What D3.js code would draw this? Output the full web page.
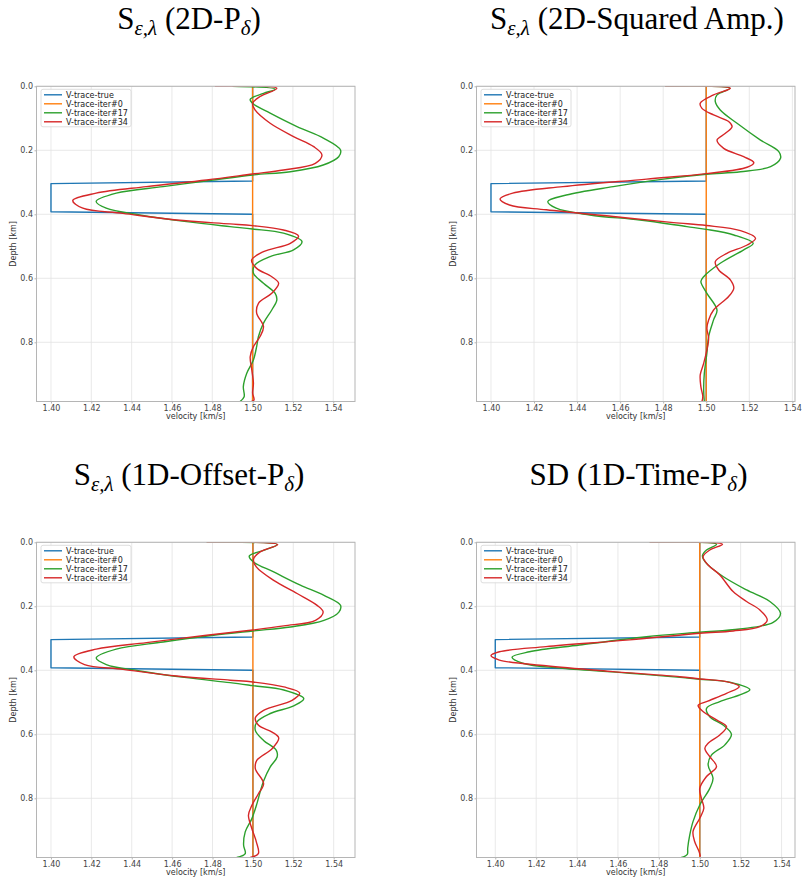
<!DOCTYPE html>
<html><head><meta charset="utf-8">
<script src="https://cdn.jsdelivr.net/npm/d3@7"></script>
<style>body{margin:0;background:#fff}</style>
</head><body><svg id="c" width="802" height="878"></svg>
<script>
// ---------- data ----------
const seriesNames = ["V-trace-true", "V-trace-iter#0", "V-trace-iter#17", "V-trace-iter#34"];
const seriesColors = ["#1f77b4", "#ff7f0e", "#2ca02c", "#d62728"];
const xTickValues = [1.40, 1.42, 1.44, 1.46, 1.48, 1.50, 1.52, 1.54];
const yTickValues = [0.0, 0.2, 0.4, 0.6, 0.8];
const depthMax = 0.985;

// [depth km, velocity km/s]
const trueModel = [[0, 1.5], [0.296, 1.5], [0.304, 1.4], [0.392, 1.4], [0.400, 1.5], [0.985, 1.5]];
const initModel = [[0, 1.5], [0.985, 1.5]];

const p1Iter17 = [[0,1.490],[0.009,1.5112],[0.022,1.5054],[0.041,1.4988],[0.055,1.5004],[0.084,1.5087],[0.126,1.5220],[0.1625,1.5353],[0.199,1.5436],[0.220,1.5427],[0.246,1.5350],[0.267,1.5187],[0.277,1.5000],[0.293,1.4805],[0.3135,1.4556],[0.334,1.4324],[0.360,1.4224],[0.381,1.4274],[0.402,1.4440],[0.423,1.4672],[0.4385,1.4888],[0.446,1.5000],[0.459,1.5153],[0.4854,1.5245],[0.511,1.5203],[0.532,1.5087],[0.558,1.5012],[0.584,1.5004],[0.6156,1.5054],[0.647,1.5112],[0.668,1.5120],[0.699,1.5095],[0.740,1.5054],[0.782,1.5029],[0.8135,1.5020],[0.855,1.5004],[0.897,1.4971],[0.9385,1.4954],[0.970,1.4958],[0.985,1.4938]];
const p1Iter34 = [[0,1.4813],[0.006,1.5120],[0.032,1.5037],[0.053,1.5000],[0.074,1.5012],[0.1156,1.5087],[0.157,1.5203],[0.1885,1.5303],[0.2146,1.5344],[0.2406,1.5311],[0.2615,1.5153],[0.274,1.5000],[0.2927,1.4772],[0.3135,1.4473],[0.334,1.4224],[0.357,1.4108],[0.381,1.4158],[0.397,1.4357],[0.418,1.4622],[0.430,1.4888],[0.4354,1.5000],[0.449,1.5153],[0.468,1.5228],[0.4906,1.5187],[0.5167,1.5054],[0.543,1.4995],[0.569,1.5020],[0.595,1.5095],[0.6156,1.5129],[0.647,1.5095],[0.678,1.5029],[0.709,1.5020],[0.751,1.5054],[0.782,1.5037],[0.8135,1.5004],[0.845,1.4988],[0.886,1.4996],[0.928,1.5004],[0.959,1.5000],[0.980,1.5007],[0.985,1.4995]];

const p2Iter17 = [[0,1.4809],[0.006,1.5109],[0.027,1.5050],[0.048,1.5042],[0.074,1.5065],[0.1156,1.5143],[0.168,1.5252],[0.204,1.5337],[0.225,1.5345],[0.251,1.5299],[0.267,1.5159],[0.275,1.5000],[0.290,1.4801],[0.3135,1.4568],[0.3396,1.4350],[0.360,1.4264],[0.381,1.4303],[0.402,1.4459],[0.418,1.4692],[0.4385,1.4910],[0.447,1.5000],[0.4646,1.5128],[0.4906,1.5218],[0.511,1.5174],[0.553,1.5065],[0.595,1.4988],[0.610,1.4975],[0.647,1.5003],[0.699,1.5050],[0.730,1.5034],[0.782,1.5011],[0.834,1.5003],[0.897,1.4991],[0.949,1.4988],[0.985,1.4991]];
const p2Iter34 = [[0,1.4809],[0.006,1.5112],[0.027,1.5034],[0.053,1.4972],[0.069,1.4980],[0.0896,1.5034],[0.110,1.5104],[0.126,1.5120],[0.147,1.5089],[0.168,1.5050],[0.194,1.5081],[0.220,1.5174],[0.2385,1.5221],[0.253,1.5190],[0.273,1.5000],[0.290,1.4723],[0.3135,1.4334],[0.334,1.4101],[0.352,1.4042],[0.371,1.4086],[0.386,1.4257],[0.407,1.4568],[0.426,1.4848],[0.435,1.5000],[0.451,1.5159],[0.475,1.5229],[0.496,1.5190],[0.522,1.5096],[0.548,1.5042],[0.574,1.5058],[0.605,1.5112],[0.631,1.5128],[0.657,1.5104],[0.699,1.5034],[0.730,1.5011],[0.756,1.5003],[0.7875,1.5011],[0.824,1.5003],[0.866,1.4988],[0.902,1.4972],[0.9385,1.4975],[0.970,1.4984],[0.985,1.4980]];

const p3Iter17 = [[0,1.4771],[0.007,1.5120],[0.025,1.5053],[0.043,1.4982],[0.0615,1.5003],[0.0927,1.5103],[0.134,1.5235],[0.1656,1.5352],[0.197,1.5434],[0.218,1.5426],[0.244,1.5352],[0.2646,1.5186],[0.277,1.5000],[0.2906,1.4804],[0.3115,1.4556],[0.334,1.4323],[0.3615,1.4224],[0.382,1.4274],[0.402,1.4440],[0.423,1.4672],[0.4385,1.4887],[0.448,1.5000],[0.4615,1.5153],[0.4885,1.5252],[0.511,1.5202],[0.535,1.5086],[0.561,1.5020],[0.5875,1.5012],[0.619,1.5053],[0.650,1.5116],[0.671,1.5120],[0.702,1.5086],[0.746,1.5053],[0.780,1.5036],[0.8167,1.5020],[0.8635,1.4995],[0.905,1.4962],[0.947,1.4954],[0.973,1.4962],[0.985,1.4920]];
const p3Iter34 = [[0,1.4771],[0.007,1.5123],[0.030,1.5036],[0.053,1.5003],[0.077,1.5017],[0.119,1.5103],[0.160,1.5219],[0.197,1.5318],[0.218,1.5348],[0.244,1.5310],[0.261,1.5153],[0.274,1.5000],[0.2906,1.4771],[0.3135,1.4473],[0.334,1.4224],[0.358,1.4113],[0.382,1.4166],[0.397,1.4357],[0.418,1.4622],[0.431,1.4887],[0.4365,1.5000],[0.452,1.5153],[0.471,1.5232],[0.494,1.5194],[0.525,1.5053],[0.549,1.5012],[0.572,1.5028],[0.593,1.5095],[0.6115,1.5128],[0.645,1.5095],[0.681,1.5020],[0.707,1.5012],[0.754,1.5053],[0.785,1.5028],[0.822,1.4995],[0.853,1.4978],[0.895,1.4995],[0.936,1.5017],[0.973,1.5027],[0.985,1.4987]];

const p4Iter17 = [[0,1.4755],[0.006,1.5082],[0.024,1.5033],[0.042,1.5013],[0.066,1.5033],[0.107,1.5114],[0.149,1.5229],[0.185,1.5343],[0.222,1.5395],[0.250,1.5359],[0.271,1.5196],[0.281,1.5000],[0.295,1.4739],[0.321,1.4412],[0.342,1.4167],[0.359,1.4082],[0.378,1.4134],[0.394,1.4330],[0.409,1.4657],[0.423,1.4918],[0.428,1.5000],[0.4375,1.5147],[0.461,1.5245],[0.477,1.5196],[0.498,1.5098],[0.519,1.5033],[0.545,1.5049],[0.571,1.5114],[0.600,1.5155],[0.633,1.5123],[0.665,1.5057],[0.696,1.5041],[0.7375,1.5065],[0.769,1.5049],[0.821,1.5000],[0.873,1.4967],[0.915,1.4951],[0.956,1.4941],[0.975,1.4939],[0.985,1.4910]];
const p4Iter34 = [[0,1.4755],[0.006,1.5111],[0.024,1.5049],[0.045,1.5016],[0.071,1.5041],[0.102,1.5098],[0.154,1.5163],[0.185,1.5229],[0.2115,1.5294],[0.243,1.5330],[0.2635,1.5294],[0.277,1.5163],[0.284,1.5000],[0.305,1.4657],[0.326,1.4248],[0.342,1.4020],[0.354,1.3979],[0.368,1.4020],[0.386,1.4248],[0.404,1.4575],[0.420,1.4902],[0.427,1.5000],[0.4354,1.5131],[0.451,1.5193],[0.472,1.5131],[0.498,1.5033],[0.510,1.4992],[0.529,1.5016],[0.555,1.5082],[0.576,1.5131],[0.602,1.5098],[0.628,1.5041],[0.644,1.5025],[0.670,1.5049],[0.701,1.5082],[0.732,1.5033],[0.769,1.5000],[0.800,1.5008],[0.831,1.5020],[0.8625,1.5000],[0.904,1.4967],[0.935,1.4975],[0.967,1.4997],[0.982,1.5003]];

// title pieces: [text, isSubscript]
const panelTitles = [
  [["S", false], ["ε,λ", true], [" (2D-P", false], ["δ", true], [")", false]],
  [["S", false], ["ε,λ", true], [" (2D-Squared Amp.)", false]],
  [["S", false], ["ε,λ", true], [" (1D-Offset-P", false], ["δ", true], [")", false]],
  [["SD (1D-Time-P", false], ["δ", true], [")", false]]
];
const panelIter17 = [p1Iter17, p2Iter17, p3Iter17, p4Iter17];
const panelIter34 = [p1Iter34, p2Iter34, p3Iter34, p4Iter34];

// ---------- layout ----------
const boxes = [
  {l: 36.5, r: 355, t: 86.3, b: 401.5, tc: 189},
  {l: 476.5, r: 795, t: 86.3, b: 401.5, tc: 637},
  {l: 36.5, r: 355, t: 542.3, b: 857.5, tc: 189},
  {l: 476.5, r: 795, t: 542.3, b: 857.5, tc: 638.5}
];

const svg = d3.select("#c");
svg.append("rect").attr("width", 802).attr("height", 878).attr("fill", "#fff");

boxes.forEach((bx, i) => {
  const series = [trueModel, initModel, panelIter17[i], panelIter34[i]];
  const allV = series.flat().map(d => d[1]);
  const vmin = d3.min(allV), vmax = d3.max(allV), pad = (vmax - vmin) * 0.05;
  const x = d3.scaleLinear().domain([vmin - pad, vmax + pad]).range([bx.l, bx.r]);
  const y = d3.scaleLinear().domain([0, depthMax]).range([bx.t, bx.b]);
  const g = svg.append("g");

  // grid
  g.selectAll(".gx").data(xTickValues).join("line")
    .attr("x1", d => x(d)).attr("x2", d => x(d)).attr("y1", bx.t).attr("y2", bx.b)
    .attr("stroke", "#e3e3e3").attr("stroke-width", 0.8);
  g.selectAll(".gy").data(yTickValues).join("line")
    .attr("x1", bx.l).attr("x2", bx.r).attr("y1", d => y(d)).attr("y2", d => y(d))
    .attr("stroke", "#e3e3e3").attr("stroke-width", 0.8);

  // clip
  const cid = "clip" + i;
  svg.append("clipPath").attr("id", cid).append("rect")
    .attr("x", bx.l).attr("y", bx.t).attr("width", bx.r - bx.l).attr("height", bx.b - bx.t);

  const lineLin = d3.line().x(d => x(d[1])).y(d => y(d[0]));
  const lineSmooth = d3.line().x(d => x(d[1])).y(d => y(d[0])).curve(d3.curveCatmullRom.alpha(0.5));
  const pg = g.append("g").attr("clip-path", `url(#${cid})`);
  series.forEach((s, k) => {
    pg.append("path").datum(s)
      .attr("d", k < 2 ? lineLin : lineSmooth)
      .attr("fill", "none").attr("stroke", seriesColors[k]).attr("stroke-width", 1.4)
      .attr("stroke-linejoin", "round");
  });

  // spines
  g.append("rect").attr("x", bx.l).attr("y", bx.t).attr("width", bx.r - bx.l).attr("height", bx.b - bx.t)
    .attr("fill", "none").attr("stroke", "#b5b5b5").attr("stroke-width", 1);

  // axes
  const ax = g.append("g").attr("transform", `translate(0,${bx.b})`)
    .call(d3.axisBottom(x).tickValues(xTickValues).tickFormat(d3.format(".2f")).tickSize(2).tickPadding(2));
  const ay = g.append("g").attr("transform", `translate(${bx.l},0)`)
    .call(d3.axisLeft(y).tickValues(yTickValues).tickFormat(d3.format(".1f")).tickSize(2).tickPadding(1.5));
  [ax, ay].forEach(a => {
    a.select(".domain").remove();
    a.selectAll(".tick line").attr("stroke", "#b5b5b5");
    a.selectAll(".tick text").attr("fill", "#444").attr("font-family", "DejaVu Sans").attr("font-size", 8);
  });

  // axis labels
  g.append("text").attr("x", (bx.l + bx.r) / 2).attr("y", bx.b + 17)
    .attr("text-anchor", "middle").attr("font-family", "DejaVu Sans").attr("font-size", 8).attr("fill", "#333")
    .text("velocity [km/s]");
  g.append("text").attr("transform", `translate(${bx.l - 21},${(bx.t + bx.b) / 2}) rotate(-90)`)
    .attr("text-anchor", "middle").attr("font-family", "DejaVu Sans").attr("font-size", 8).attr("fill", "#333")
    .text("Depth [km]");

  // legend
  const lg = g.append("g").attr("transform", `translate(${bx.l + 4.5},${bx.t + 3})`);
  lg.append("rect").attr("width", 90).attr("height", 37.5).attr("rx", 2)
    .attr("fill", "#fff").attr("fill-opacity", 0.85).attr("stroke", "#d5d5d5").attr("stroke-width", 0.8);
  seriesNames.forEach((n, k) => {
    const yy = 5.5 + k * 9;
    lg.append("line").attr("x1", 3).attr("x2", 21).attr("y1", yy).attr("y2", yy)
      .attr("stroke", seriesColors[k]).attr("stroke-width", 1.4);
    lg.append("text").attr("x", 25).attr("y", yy + 2.9).attr("font-family", "DejaVu Sans").attr("font-size", 8)
      .attr("fill", "#222").text(n);
  });

  // title
  const tt = svg.append("text").attr("x", bx.tc).attr("y", bx.t - 57).attr("text-anchor", "middle")
    .attr("font-family", "Liberation Serif, serif").attr("font-size", 31).attr("fill", "#000");
  let shifted = 0;
  panelTitles[i].forEach(([txt, sub]) => {
    const want = sub ? 6 : 0;
    const ts = tt.append("tspan").text(txt).attr("dy", want - shifted);
    if (sub) ts.attr("font-size", 21).attr("font-style", "italic");
    shifted = want;
  });
});
</script></body></html>
